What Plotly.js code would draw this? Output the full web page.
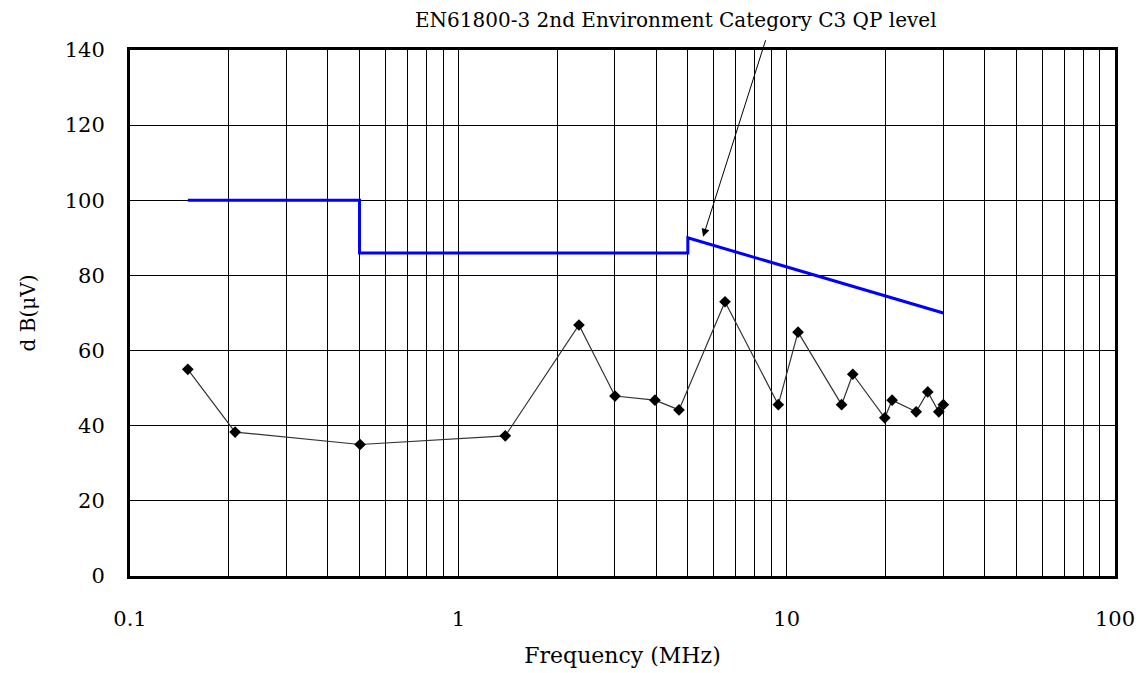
<!DOCTYPE html>
<html>
<head>
<meta charset="utf-8">
<script src="https://cdn.plot.ly/plotly-3.0.1.min.js"></script>
<style>html,body{margin:0;padding:0;background:#fff;}#chart{width:1148px;height:673px;}</style>
</head>
<body>
<div id="chart"></div>
<script>
// Measured emission (MHz, dBµV)
const measFreq = [0.15, 0.209, 0.502, 1.39, 2.33, 3.0, 3.97, 4.70, 6.49, 9.43, 10.83, 14.7, 15.9, 19.9, 20.95, 24.8, 26.9, 29.06, 30.0];
const measLevel = [55, 38.3, 35, 37.3, 66.8, 47.9, 46.8, 44.2, 73.0, 45.6, 64.9, 45.6, 53.7, 42.1, 46.8, 43.7, 49.0, 43.7, 45.6];

// EN61800-3 C3 QP limit line
const limitFreq = [0.15, 0.5, 0.5, 5, 5, 30];
const limitLevel = [100, 100, 86, 86, 90, 70];

// Axis ticks
const xTickVals = [0.1,0.2,0.3,0.4,0.5,0.6,0.7,0.8,0.9,1,2,3,4,5,6,7,8,9,10,20,30,40,50,60,70,80,90,100];
const xTickText = xTickVals.map(v => ([0.1,1,10,100].includes(v) ? String(v) : ''));

const annotText = 'EN61800-3 2nd Environment Category C3 QP level';
const arrowHead = [5.565, 90.3];

const serif = 'DejaVu Serif, serif';

const traces = [
  {
    x: limitFreq, y: limitLevel, type: 'scatter', mode: 'lines',
    line: {color: '#0000ff', width: 3}, hoverinfo: 'skip'
  },
  {
    x: measFreq, y: measLevel, type: 'scatter', mode: 'lines+markers',
    line: {color: '#333333', width: 1.2},
    marker: {symbol: 'diamond', size: 9, color: '#000000'}
  }
];

const layout = {
  width: 1148, height: 673,
  margin: {l: 130, r: 33, t: 50, b: 97},
  paper_bgcolor: '#ffffff', plot_bgcolor: '#ffffff',
  showlegend: false,
  font: {family: serif, color: '#000', size: 20},
  xaxis: {
    type: 'log', range: [-1, 2],
    tickvals: xTickVals, ticktext: xTickText,
    showgrid: true, gridcolor: '#000', gridwidth: 1,
    showline: true, linecolor: '#000', linewidth: 3, mirror: true,
    ticks: '', zeroline: false, ticklabelstandoff: 22,
    tickfont: {family: serif, size: 21},
    title: {text: 'Frequency (MHz)', font: {family: serif, size: 22}, standoff: 18}
  },
  yaxis: {
    range: [0, 140], dtick: 20, tick0: 0,
    showgrid: true, gridcolor: '#000', gridwidth: 1,
    showline: true, linecolor: '#000', linewidth: 3, mirror: true,
    ticks: '', zeroline: false, ticklabelstandoff: 18,
    tickfont: {family: serif, size: 21},
    title: {text: 'd B(μV)', font: {family: serif, size: 20}, standoff: 24}
  },
  annotations: [
    {
      x: Math.log10(arrowHead[0]), y: arrowHead[1], xref: 'x', yref: 'y',
      text: '', showarrow: true, arrowhead: 2, arrowsize: 1.6, arrowwidth: 1,
      arrowcolor: '#000', ax: 63, ay: -198
    },
    {
      x: (676 - 130) / (1148 - 130 - 33), y: (576 - 20) / (673 - 50 - 97),
      xref: 'paper', yref: 'paper', yanchor: 'middle', xanchor: 'center',
      text: annotText, showarrow: false,
      font: {family: serif, size: 20, color: '#000'}
    }
  ]
};

Plotly.newPlot('chart', traces, layout, {displayModeBar: false, staticPlot: true});
</script>
</body>
</html>
